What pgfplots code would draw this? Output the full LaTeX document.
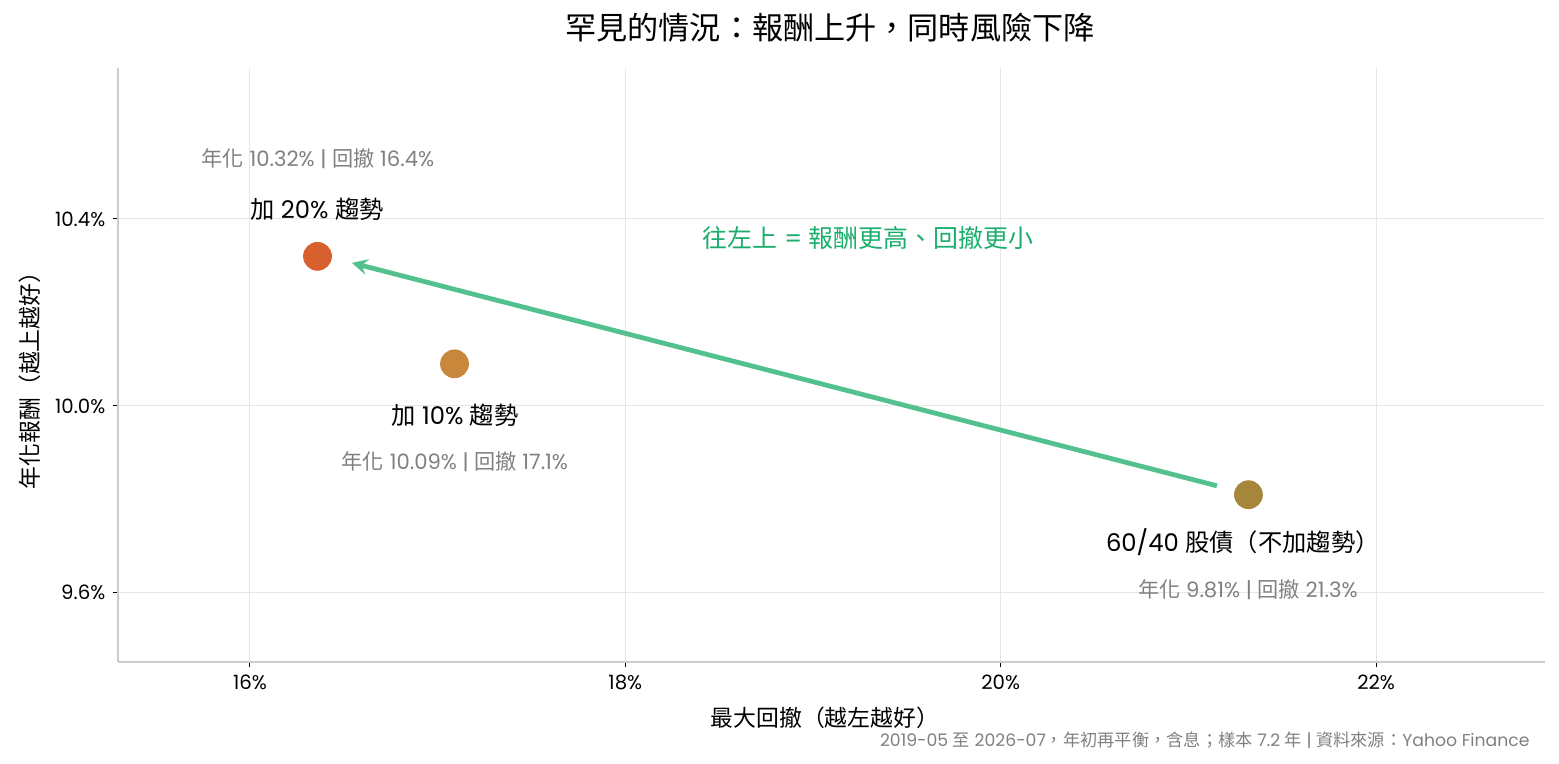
\documentclass[border=0pt]{standalone}
\usepackage{pgfplots}
\pgfplotsset{compat=1.18}
\usepackage{fontspec}
\setmainfont{Poppins}
\newfontfamily\cjk{Noto Sans CJK TC}

\definecolor{cTwenty}{HTML}{D85F2E}
\definecolor{cTen}{HTML}{C8873A}
\definecolor{cBase}{HTML}{A6863A}
\definecolor{arrowgreen}{HTML}{52C18E}
\definecolor{textgreen}{HTML}{1AAE6C}
\definecolor{statgray}{HTML}{808080}
\definecolor{spinegray}{HTML}{CCCCCC}
\definecolor{gridgray}{HTML}{E6E6E6}

\begin{document}
\begin{tikzpicture}
% page = 1559 x 764 px, 1 px = 0.48 bp
\useasboundingbox (0,0) rectangle (748.32bp,366.72bp);
\begin{axis}[
    at={(56.64bp,48.96bp)}, anchor=south west,
    scale only axis,
    width=684.96bp, height=285.12bp,
    xmin=15.297, xmax=22.9,
    ymin=9.452, ymax=10.723,
    axis x line*=bottom, axis y line*=left,
    axis line style={spinegray, line width=0.9pt, -},
    xtick={16,18,20,22},
    ytick={9.6,10.0,10.4},
    tick align=outside,
    major tick length=2.6bp,
    tick style={black, line width=0.5pt},
    xticklabel={\pgfmathprintnumber[fixed,precision=0]{\tick}\%},
    yticklabel={\pgfmathprintnumber[fixed,fixed zerofill,precision=1]{\tick}\%},
    /pgf/number format/assume math mode=true,
    ticklabel style={font=\fontsize{9.5}{11}\selectfont},
    grid=major,
    major grid style={gridgray, line width=0.5pt},
    clip=false,
]
\addplot[only marks, mark=*, mark size=6.7bp, color=cTwenty] coordinates {(16.36,10.32)};
\addplot[only marks, mark=*, mark size=6.7bp, color=cTen] coordinates {(17.09,10.09)};
\addplot[only marks, mark=*, mark size=6.7bp, color=cBase] coordinates {(21.32,9.81)};

\draw[arrowgreen, line width=2.3pt, -stealth] (axis cs:21.152,9.829) -- (axis cs:16.543,10.306);

\node[font=\fontsize{11.7}{13}\selectfont] at (axis cs:16.357,10.421) {{\cjk 加} 20\% {\cjk 趨勢}};
\node[font=\fontsize{10.2}{11}\selectfont, text=statgray] at (axis cs:16.362,10.530) {{\cjk 年化} 10.32\% | {\cjk 回撤} 16.4\%};
\node[font=\fontsize{11.7}{13}\selectfont] at (axis cs:17.092,9.981) {{\cjk 加} 10\% {\cjk 趨勢}};
\node[font=\fontsize{10.2}{11}\selectfont, text=statgray] at (axis cs:17.092,9.880) {{\cjk 年化} 10.09\% | {\cjk 回撤} 17.1\%};
\node[font=\fontsize{11.7}{13}\selectfont] at (axis cs:21.290,9.709) {60/40 {\cjk 股債（不加趨勢）}};
\node[font=\fontsize{10.2}{11}\selectfont, text=statgray] at (axis cs:21.317,9.606) {{\cjk 年化} 9.81\% | {\cjk 回撤} 21.3\%};
\node[font=\fontsize{12}{14}\selectfont, text=textgreen] at (axis cs:19.293,10.359) {{\cjk 往左上} = {\cjk 報酬更高、回撤更小}};
\end{axis}
\begin{scope}[x=0.48bp, y=-0.48bp, shift={(0,366.72bp)}]
\node[font=\cjk\fontsize{15}{17}\selectfont] at (830,28) {罕見的情況：報酬上升，同時風險下降};
\node[font=\cjk\fontsize{11}{13}\selectfont] at (825,718) {最大回撤（越左越好）};
\node[font=\cjk\fontsize{11}{13}\selectfont, rotate=90] at (30,375) {年化報酬（越上越好）};
\node[font=\fontsize{8.3}{9}\selectfont, text=statgray, anchor=east, inner sep=0pt] at (1530,740) {2019-05 {\cjk 至} 2026-07{\cjk ，年初再平衡，含息；樣本} 7.2 {\cjk 年} | {\cjk 資料來源：}Yahoo Finance};
\end{scope}
\end{tikzpicture}
\end{document}
